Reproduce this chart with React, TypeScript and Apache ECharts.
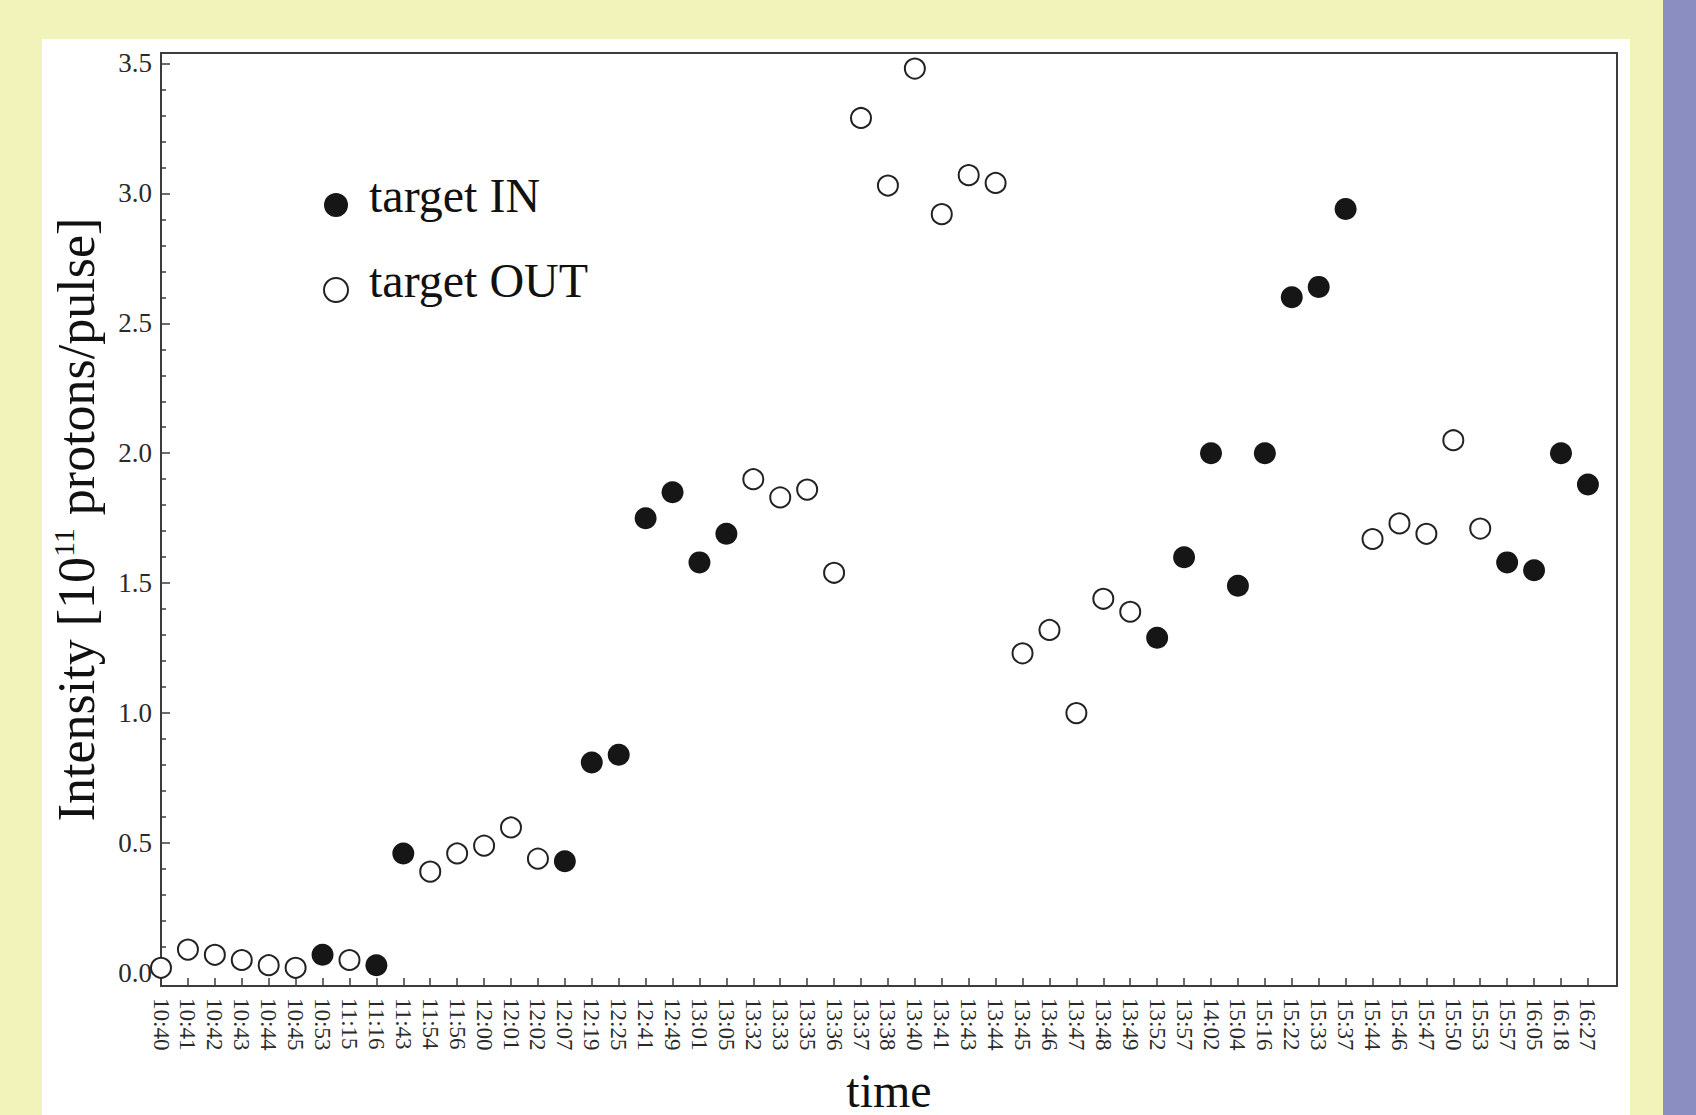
import React, { useEffect, useRef } from "react";
import * as echarts from "echarts";

const times = [
  "10:40", "10:41", "10:42", "10:43", "10:44", "10:45", "10:53", "11:15", "11:16",
  "11:43", "11:54", "11:56", "12:00", "12:01", "12:02", "12:07", "12:19", "12:25",
  "12:41", "12:49", "13:01", "13:05", "13:32", "13:33", "13:35", "13:36", "13:37",
  "13:38", "13:40", "13:41", "13:43", "13:44", "13:45", "13:46", "13:47", "13:48",
  "13:49", "13:52", "13:57", "14:02", "15:04", "15:16", "15:22", "15:33", "15:37",
  "15:44", "15:46", "15:47", "15:50", "15:53", "15:57", "16:05", "16:18", "16:27",
];

const intensity = [
  0.02, 0.09, 0.07, 0.05, 0.03, 0.02, 0.07, 0.05, 0.03,
  0.46, 0.39, 0.46, 0.49, 0.56, 0.44, 0.43, 0.81, 0.84,
  1.75, 1.85, 1.58, 1.69, 1.9, 1.83, 1.86, 1.54, 3.29,
  3.03, 3.48, 2.92, 3.07, 3.04, 1.23, 1.32, 1.0, 1.44,
  1.39, 1.29, 1.6, 2.0, 1.49, 2.0, 2.6, 2.64, 2.94,
  1.67, 1.73, 1.69, 2.05, 1.71, 1.58, 1.55, 2.0, 1.88,
];

// "IN" = target IN (filled), "OUT" = target OUT (open)
const target = [
  "OUT", "OUT", "OUT", "OUT", "OUT", "OUT", "IN", "OUT", "IN",
  "IN", "OUT", "OUT", "OUT", "OUT", "OUT", "IN", "IN", "IN",
  "IN", "IN", "IN", "IN", "OUT", "OUT", "OUT", "OUT", "OUT",
  "OUT", "OUT", "OUT", "OUT", "OUT", "OUT", "OUT", "OUT", "OUT",
  "OUT", "IN", "IN", "IN", "IN", "IN", "IN", "IN", "IN",
  "OUT", "OUT", "OUT", "OUT", "OUT", "IN", "IN", "IN", "IN",
];

const yMajorTicks = [0, 0.5, 1.0, 1.5, 2.0, 2.5, 3.0, 3.5];
const yMinorTicks: number[] = [];
for (let i = 1; i < 35; i++) if (i % 5 !== 0) yMinorTicks.push(i / 10);

const FONT = "'Liberation Serif', 'Times New Roman', serif";
// circle icon whose bounding box extends upward, so the dot sits lower than the text middle
const LEGEND_ICON = "path://M12,-20 M24,12 A12,12 0 1 1 0,12 A12,12 0 1 1 24,12 Z";

export default function App() {
  const ref = useRef<HTMLDivElement>(null);

  useEffect(() => {
    document.body.style.margin = "0";
    if (!ref.current) return;
    const chart = echarts.init(ref.current, null, { renderer: "svg" });

    const xIdx = times.map((_, i) => i);
    const inData = intensity
      .map((v, i) => (target[i] === "IN" ? [i, v] : null))
      .filter((d) => d !== null);
    const outData = intensity
      .map((v, i) => (target[i] === "OUT" ? [i, v] : null))
      .filter((d) => d !== null);

    const option: any = {
      animation: false,
      backgroundColor: "#F2F2BB",
      textStyle: { fontFamily: FONT },
      graphic: [
        {
          type: "rect",
          z: -10,
          silent: true,
          shape: { x: 42, y: 39, width: 1588, height: 1076 },
          style: { fill: "#ffffff" },
        },
        {
          type: "rect",
          z: -10,
          silent: true,
          shape: { x: 1663, y: 0, width: 33, height: 1115 },
          style: { fill: "#8A8EC1" },
        },
      ],
      grid: {
        left: 161,
        right: 79,
        top: 53,
        bottom: 129,
        show: true,
        borderColor: "#3c3c3c",
        borderWidth: 2,
        backgroundColor: "transparent",
        containLabel: false,
        outerBoundsMode: "none",
      },
      legend: {
        data: ["target IN", "target OUT"],
        orient: "vertical",
        left: 323,
        top: 171,
        padding: 0,
        itemWidth: 24,
        itemHeight: 44,
        itemGap: 37,
        icon: LEGEND_ICON,
        selectedMode: false,
        textStyle: {
          fontFamily: FONT,
          fontSize: 48,
          lineHeight: 48,
          color: "#111111",
          padding: [0, 0, 0, 16],
        },
      },
      xAxis: {
        type: "value",
        min: 0,
        max: 54.08,
        name: "time",
        nameLocation: "middle",
        nameGap: 80,
        nameTextStyle: { fontFamily: FONT, fontSize: 48, color: "#111111" },
        axisLine: { show: false, onZero: false },
        splitLine: { show: false },
        axisTick: {
          show: true,
          inside: true,
          length: 8,
          customValues: xIdx,
          lineStyle: { color: "#3c3c3c", width: 1.5 },
        },
        axisLabel: {
          show: true,
          rotate: -90,
          margin: 12,
          fontFamily: FONT,
          fontSize: 23,
          color: "#2a2a2a",
          customValues: xIdx,
          formatter: (v: number) => times[Math.round(v)] ?? "",
        },
      },
      yAxis: [
        {
          type: "value",
          position: "left",
          min: -0.05,
          max: 3.54,
          name: "{a|Intensity [10}{s|11}{a| protons/pulse]}",
          nameLocation: "middle",
          nameRotate: 90,
          nameGap: 57,
          nameTextStyle: {
            rich: {
              a: { fontFamily: FONT, fontSize: 52, color: "#111111", lineHeight: 56 },
              s: {
                fontFamily: FONT,
                fontSize: 30,
                color: "#111111",
                verticalAlign: "top",
                lineHeight: 30,
              },
            },
          },
          axisLine: { show: false, onZero: false },
          splitLine: { show: false },
          axisTick: {
            show: true,
            inside: true,
            length: 9,
            customValues: yMajorTicks,
            lineStyle: { color: "#3c3c3c", width: 1.5 },
          },
          axisLabel: {
            show: true,
            margin: 9,
            fontFamily: FONT,
            fontSize: 27,
            color: "#2a2a2a",
            customValues: yMajorTicks,
            formatter: (v: number) => v.toFixed(1),
          },
        },
        {
          type: "value",
          position: "left",
          offset: 0,
          min: -0.05,
          max: 3.54,
          axisLine: { show: false, onZero: false },
          splitLine: { show: false },
          axisTick: {
            show: true,
            inside: true,
            length: 5,
            customValues: yMinorTicks,
            lineStyle: { color: "#3c3c3c", width: 1.5 },
          },
          axisLabel: { show: false, customValues: yMinorTicks },
        },
      ],
      series: [
        {
          name: "target IN",
          type: "scatter",
          data: inData,
          symbol: "circle",
          symbolSize: 22,
          clip: false,
          itemStyle: { color: "#161616", opacity: 1 },
          z: 3,
        },
        {
          name: "target OUT",
          type: "scatter",
          data: outData,
          symbol: "circle",
          symbolSize: 20,
          clip: false,
          itemStyle: {
            color: "#ffffff",
            borderColor: "#222222",
            borderWidth: 2,
            opacity: 1,
          },
          z: 3,
        },
      ],
    };

    chart.setOption(option);
    return () => chart.dispose();
  }, []);

  return <div ref={ref} style={{ width: 1696, height: 1115 }} />;
}
